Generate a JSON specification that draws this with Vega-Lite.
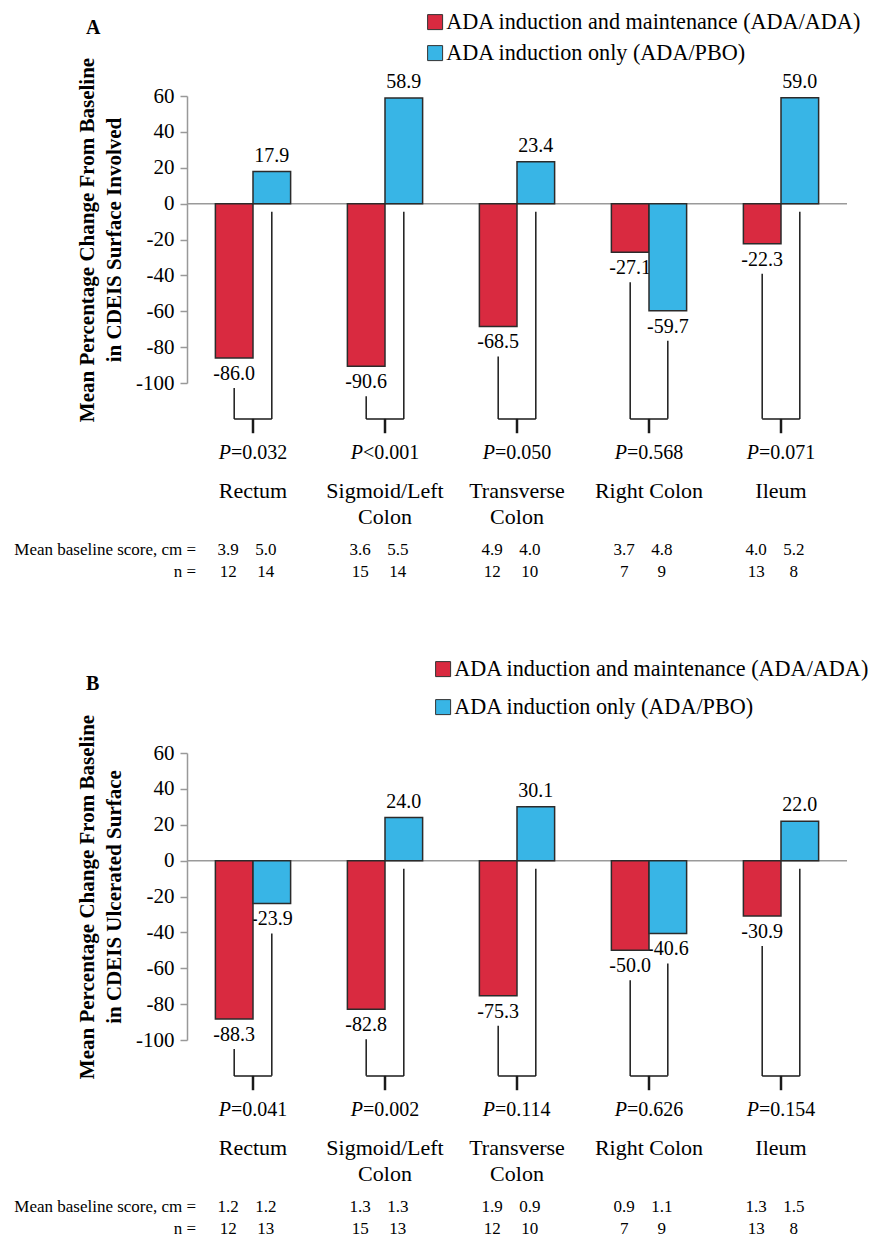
{
  "$schema": "https://vega.github.io/schema/vega-lite/v6.json",
  "padding": {"left": 14, "top": 11, "right": 2, "bottom": 0},
  "config": {
    "font": "Liberation Serif",
    "view": {"stroke": null},
    "locale": {"number": {"decimal": ".", "thousands": ",", "grouping": [3], "currency": ["$", ""], "minus": "-"}},
    "axis": {"grid": false, "labelFont": "Liberation Serif", "titleFont": "Liberation Serif", "labelOverlap": false},
    "legend": {"labelFont": "Liberation Serif", "titleFont": "Liberation Serif"},
    "title": {"color": "black", "font": "Liberation Serif"},
    "text": {"font": "Liberation Serif", "color": "black"}
  },
  "datasets": {
    "barsA": [
      {"region": "Rectum", "group": "ADA induction and maintenance (ADA/ADA)", "value": -86.0, "base": 3.9, "n": 12},
      {"region": "Rectum", "group": "ADA induction only (ADA/PBO)", "value": 17.9, "base": 5.0, "n": 14},
      {"region": "Sigmoid/Left Colon", "group": "ADA induction and maintenance (ADA/ADA)", "value": -90.6, "base": 3.6, "n": 15},
      {"region": "Sigmoid/Left Colon", "group": "ADA induction only (ADA/PBO)", "value": 58.9, "base": 5.5, "n": 14},
      {"region": "Transverse Colon", "group": "ADA induction and maintenance (ADA/ADA)", "value": -68.5, "base": 4.9, "n": 12},
      {"region": "Transverse Colon", "group": "ADA induction only (ADA/PBO)", "value": 23.4, "base": 4.0, "n": 10},
      {"region": "Right Colon", "group": "ADA induction and maintenance (ADA/ADA)", "value": -27.1, "base": 3.7, "n": 7},
      {"region": "Right Colon", "group": "ADA induction only (ADA/PBO)", "value": -59.7, "base": 4.8, "n": 9},
      {"region": "Ileum", "group": "ADA induction and maintenance (ADA/ADA)", "value": -22.3, "base": 4.0, "n": 13},
      {"region": "Ileum", "group": "ADA induction only (ADA/PBO)", "value": 59.0, "base": 5.2, "n": 8}
    ],
    "pA": [
      {"region": "Rectum", "label": "Rectum", "p": "=0.032"},
      {"region": "Sigmoid/Left Colon", "label": "Sigmoid/Left\nColon", "p": "<0.001"},
      {"region": "Transverse Colon", "label": "Transverse\nColon", "p": "=0.050"},
      {"region": "Right Colon", "label": "Right Colon", "p": "=0.568"},
      {"region": "Ileum", "label": "Ileum", "p": "=0.071"}
    ],
    "barsB": [
      {"region": "Rectum", "group": "ADA induction and maintenance (ADA/ADA)", "value": -88.3, "base": 1.2, "n": 12},
      {"region": "Rectum", "group": "ADA induction only (ADA/PBO)", "value": -23.9, "base": 1.2, "n": 13},
      {"region": "Sigmoid/Left Colon", "group": "ADA induction and maintenance (ADA/ADA)", "value": -82.8, "base": 1.3, "n": 15},
      {"region": "Sigmoid/Left Colon", "group": "ADA induction only (ADA/PBO)", "value": 24.0, "base": 1.3, "n": 13},
      {"region": "Transverse Colon", "group": "ADA induction and maintenance (ADA/ADA)", "value": -75.3, "base": 1.9, "n": 12},
      {"region": "Transverse Colon", "group": "ADA induction only (ADA/PBO)", "value": 30.1, "base": 0.9, "n": 10},
      {"region": "Right Colon", "group": "ADA induction and maintenance (ADA/ADA)", "value": -50.0, "base": 0.9, "n": 7},
      {"region": "Right Colon", "group": "ADA induction only (ADA/PBO)", "value": -40.6, "base": 1.1, "n": 9},
      {"region": "Ileum", "group": "ADA induction and maintenance (ADA/ADA)", "value": -30.9, "base": 1.3, "n": 13},
      {"region": "Ileum", "group": "ADA induction only (ADA/PBO)", "value": 22.0, "base": 1.5, "n": 8}
    ],
    "pB": [
      {"region": "Rectum", "label": "Rectum", "p": "=0.041"},
      {"region": "Sigmoid/Left Colon", "label": "Sigmoid/Left\nColon", "p": "=0.002"},
      {"region": "Transverse Colon", "label": "Transverse\nColon", "p": "=0.114"},
      {"region": "Right Colon", "label": "Right Colon", "p": "=0.626"},
      {"region": "Ileum", "label": "Ileum", "p": "=0.154"}
    ]
  },
  "spacing": 77,
  "resolve": {"scale": {"color": "independent"}, "legend": {"color": "independent"}},
  "vconcat": [
    {
      "title": {"text": "A", "anchor": "start", "frame": "group", "fontSize": 20, "fontWeight": "bold", "dx": -101, "dy": 27, "offset": 0},
      "width": 660,
      "height": 287,
      "data": {"name": "barsA"},
      "layer": [
        {"data": {"values": [{}]}, "mark": {"type": "rule", "color": "#9a9a9a", "strokeWidth": 1.5},
         "encoding": {"y": {"datum": 0, "type": "quantitative", "scale": {"domain": [-100, 60], "nice": false},
                            "axis": {"title": ["Mean Percentage Change From Baseline", "in CDEIS Surface Involved"], "titleFontSize": 21, "titleFontWeight": "bold", "titleColor": "black", "titleLineHeight": 27, "titlePadding": 11,
                                     "values": [-100, -80, -60, -40, -20, 0, 20, 40, 60], "tickCount": 12, "labelOverlap": false, "labelFontSize": 21, "labelColor": "black", "tickColor": "#999", "domainColor": "#999", "tickSize": 7, "labelPadding": 6, "domainWidth": 1.5, "tickWidth": 1.5}}}},
        {"transform": [{"filter": "datum.value < 0"}], "mark": {"type": "text", "fontSize": 20, "dy": 16, "baseline": "middle"},
         "encoding": {"x": {"field": "region", "type": "nominal", "scale": {"domain": ["Rectum", "Sigmoid/Left Colon", "Transverse Colon", "Right Colon", "Ileum"], "paddingInner": 0.43, "paddingOuter": 0.215}, "axis": null},
                      "xOffset": {"field": "group", "type": "nominal", "scale": {"domain": ["ADA induction and maintenance (ADA/ADA)", "ADA induction only (ADA/PBO)"], "paddingInner": 0, "paddingOuter": 0}},
                      "y": {"field": "value", "type": "quantitative"}, "text": {"field": "value", "type": "quantitative", "format": ".1f"}}},
        {"transform": [{"filter": "datum.value >= 0"}], "mark": {"type": "text", "fontSize": 20, "dy": -16, "baseline": "middle"},
         "encoding": {"x": {"field": "region", "type": "nominal"}, "xOffset": {"field": "group", "type": "nominal"},
                      "y": {"field": "value", "type": "quantitative"}, "text": {"field": "value", "type": "quantitative", "format": ".1f"}}},
        {"mark": {"type": "bar", "stroke": "#2b2b2b", "strokeWidth": 1.5},
         "encoding": {"x": {"field": "region", "type": "nominal"}, "xOffset": {"field": "group", "type": "nominal"},
                      "y": {"field": "value", "type": "quantitative"},
                      "color": {"field": "group", "type": "nominal", "scale": {"domain": ["ADA induction and maintenance (ADA/ADA)", "ADA induction only (ADA/PBO)"], "range": ["#d92a40", "#38b5e6"]},
                                "legend": {"title": null, "orient": "none", "legendX": 237, "legendY": -85, "symbolType": "square", "symbolSize": 225, "symbolStrokeColor": "#333", "symbolStrokeWidth": 1, "labelFont": "Liberation Serif", "labelFontSize": 22.2, "labelColor": "black", "rowPadding": 8, "labelOffset": 0, "labelLimit": 600}}}},
        {"transform": [{"filter": "datum.value < 0"}], "mark": {"type": "rule", "color": "#1a1a1a", "strokeWidth": 1.5, "yOffset": 30},
         "encoding": {"x": {"field": "region", "type": "nominal"}, "xOffset": {"field": "group", "type": "nominal"}, "y": {"field": "value", "type": "quantitative"}, "y2": {"datum": -120}}},
        {"transform": [{"filter": "datum.value >= 0"}], "mark": {"type": "rule", "color": "#1a1a1a", "strokeWidth": 1.5, "yOffset": 8},
         "encoding": {"x": {"field": "region", "type": "nominal"}, "xOffset": {"field": "group", "type": "nominal"}, "y": {"datum": 0}, "y2": {"datum": -120}}},
        {"mark": {"type": "line", "color": "#1a1a1a", "strokeWidth": 1.5},
         "encoding": {"x": {"field": "region", "type": "nominal"}, "xOffset": {"field": "group", "type": "nominal"}, "y": {"datum": -120}, "detail": {"field": "region"}}},
        {"data": {"name": "pA"}, "mark": {"type": "rule", "color": "#1a1a1a", "strokeWidth": 2.5},
         "encoding": {"x": {"field": "region", "type": "nominal"}, "y": {"datum": -120}, "y2": {"datum": -128}}},
        {"data": {"name": "pA"}, "mark": {"type": "text", "text": "P", "fontStyle": "italic", "fontSize": 20, "align": "right", "dx": -22, "baseline": "middle"},
         "encoding": {"x": {"field": "region", "type": "nominal"}, "y": {"datum": -139}}},
        {"data": {"name": "pA"}, "mark": {"type": "text", "fontSize": 20, "align": "left", "dx": -22, "baseline": "middle"},
         "encoding": {"x": {"field": "region", "type": "nominal"}, "y": {"datum": -139}, "text": {"field": "p"}}},
        {"data": {"name": "pA"}, "mark": {"type": "text", "fontSize": 22, "baseline": "top", "lineBreak": "\n", "lineHeight": 26},
         "encoding": {"x": {"field": "region", "type": "nominal"}, "y": {"datum": -154.5}, "text": {"field": "label"}}},
        {"mark": {"type": "text", "fontSize": 17, "dx": -6, "baseline": "middle"},
         "encoding": {"x": {"field": "region", "type": "nominal"}, "xOffset": {"field": "group", "type": "nominal"}, "y": {"datum": -193}, "text": {"field": "base", "type": "quantitative", "format": ".1f"}}},
        {"mark": {"type": "text", "fontSize": 17, "dx": -6, "baseline": "middle"},
         "encoding": {"x": {"field": "region", "type": "nominal"}, "xOffset": {"field": "group", "type": "nominal"}, "y": {"datum": -205.5}, "text": {"field": "n", "type": "quantitative"}}},
        {"data": {"values": [{"t": "Mean baseline score, cm ="}]}, "mark": {"type": "text", "fontSize": 17, "dx": -38, "align": "right", "baseline": "middle"},
         "encoding": {"x": {"datum": "Rectum", "type": "nominal"}, "xOffset": {"datum": "ADA induction and maintenance (ADA/ADA)", "type": "nominal"}, "y": {"datum": -193}, "text": {"field": "t"}}},
        {"data": {"values": [{"t": "n ="}]}, "mark": {"type": "text", "fontSize": 17, "dx": -38, "align": "right", "baseline": "middle"},
         "encoding": {"x": {"datum": "Rectum", "type": "nominal"}, "xOffset": {"datum": "ADA induction and maintenance (ADA/ADA)", "type": "nominal"}, "y": {"datum": -205.5}, "text": {"field": "t"}}}
      ]
    },
    {
      "title": {"text": "B", "anchor": "start", "frame": "group", "fontSize": 20, "fontWeight": "bold", "dx": -101, "dy": 36, "offset": 0},
      "width": 660,
      "height": 287,
      "data": {"name": "barsB"},
      "layer": [
        {"data": {"values": [{}]}, "mark": {"type": "rule", "color": "#9a9a9a", "strokeWidth": 1.5},
         "encoding": {"y": {"datum": 0, "type": "quantitative", "scale": {"domain": [-100, 60], "nice": false},
                            "axis": {"title": ["Mean Percentage Change From Baseline", "in CDEIS Ulcerated Surface"], "titleFontSize": 21, "titleFontWeight": "bold", "titleColor": "black", "titleLineHeight": 27, "titlePadding": 11,
                                     "values": [-100, -80, -60, -40, -20, 0, 20, 40, 60], "tickCount": 12, "labelOverlap": false, "labelFontSize": 21, "labelColor": "black", "tickColor": "#999", "domainColor": "#999", "tickSize": 7, "labelPadding": 6, "domainWidth": 1.5, "tickWidth": 1.5}}}},
        {"transform": [{"filter": "datum.value < 0"}], "mark": {"type": "text", "fontSize": 20, "dy": 16, "baseline": "middle"},
         "encoding": {"x": {"field": "region", "type": "nominal", "scale": {"domain": ["Rectum", "Sigmoid/Left Colon", "Transverse Colon", "Right Colon", "Ileum"], "paddingInner": 0.43, "paddingOuter": 0.215}, "axis": null},
                      "xOffset": {"field": "group", "type": "nominal", "scale": {"domain": ["ADA induction and maintenance (ADA/ADA)", "ADA induction only (ADA/PBO)"], "paddingInner": 0, "paddingOuter": 0}},
                      "y": {"field": "value", "type": "quantitative"}, "text": {"field": "value", "type": "quantitative", "format": ".1f"}}},
        {"transform": [{"filter": "datum.value >= 0"}], "mark": {"type": "text", "fontSize": 20, "dy": -16, "baseline": "middle"},
         "encoding": {"x": {"field": "region", "type": "nominal"}, "xOffset": {"field": "group", "type": "nominal"},
                      "y": {"field": "value", "type": "quantitative"}, "text": {"field": "value", "type": "quantitative", "format": ".1f"}}},
        {"mark": {"type": "bar", "stroke": "#2b2b2b", "strokeWidth": 1.5},
         "encoding": {"x": {"field": "region", "type": "nominal"}, "xOffset": {"field": "group", "type": "nominal"},
                      "y": {"field": "value", "type": "quantitative"},
                      "color": {"field": "group", "type": "nominal", "scale": {"domain": ["ADA induction and maintenance (ADA/ADA)", "ADA induction only (ADA/PBO)"], "range": ["#d92a40", "#38b5e6"]},
                                "legend": {"title": null, "orient": "none", "legendX": 245, "legendY": -95, "symbolType": "square", "symbolSize": 225, "symbolStrokeColor": "#333", "symbolStrokeWidth": 1, "labelFont": "Liberation Serif", "labelFontSize": 22.2, "labelColor": "black", "rowPadding": 15, "labelOffset": 0, "labelLimit": 600}}}},
        {"transform": [{"filter": "datum.value < 0"}], "mark": {"type": "rule", "color": "#1a1a1a", "strokeWidth": 1.5, "yOffset": 30},
         "encoding": {"x": {"field": "region", "type": "nominal"}, "xOffset": {"field": "group", "type": "nominal"}, "y": {"field": "value", "type": "quantitative"}, "y2": {"datum": -120}}},
        {"transform": [{"filter": "datum.value >= 0"}], "mark": {"type": "rule", "color": "#1a1a1a", "strokeWidth": 1.5, "yOffset": 8},
         "encoding": {"x": {"field": "region", "type": "nominal"}, "xOffset": {"field": "group", "type": "nominal"}, "y": {"datum": 0}, "y2": {"datum": -120}}},
        {"mark": {"type": "line", "color": "#1a1a1a", "strokeWidth": 1.5},
         "encoding": {"x": {"field": "region", "type": "nominal"}, "xOffset": {"field": "group", "type": "nominal"}, "y": {"datum": -120}, "detail": {"field": "region"}}},
        {"data": {"name": "pB"}, "mark": {"type": "rule", "color": "#1a1a1a", "strokeWidth": 2.5},
         "encoding": {"x": {"field": "region", "type": "nominal"}, "y": {"datum": -120}, "y2": {"datum": -128}}},
        {"data": {"name": "pB"}, "mark": {"type": "text", "text": "P", "fontStyle": "italic", "fontSize": 20, "align": "right", "dx": -22, "baseline": "middle"},
         "encoding": {"x": {"field": "region", "type": "nominal"}, "y": {"datum": -139}}},
        {"data": {"name": "pB"}, "mark": {"type": "text", "fontSize": 20, "align": "left", "dx": -22, "baseline": "middle"},
         "encoding": {"x": {"field": "region", "type": "nominal"}, "y": {"datum": -139}, "text": {"field": "p"}}},
        {"data": {"name": "pB"}, "mark": {"type": "text", "fontSize": 22, "baseline": "top", "lineBreak": "\n", "lineHeight": 26},
         "encoding": {"x": {"field": "region", "type": "nominal"}, "y": {"datum": -154.5}, "text": {"field": "label"}}},
        {"mark": {"type": "text", "fontSize": 17, "dx": -6, "baseline": "middle"},
         "encoding": {"x": {"field": "region", "type": "nominal"}, "xOffset": {"field": "group", "type": "nominal"}, "y": {"datum": -193}, "text": {"field": "base", "type": "quantitative", "format": ".1f"}}},
        {"mark": {"type": "text", "fontSize": 17, "dx": -6, "baseline": "middle"},
         "encoding": {"x": {"field": "region", "type": "nominal"}, "xOffset": {"field": "group", "type": "nominal"}, "y": {"datum": -205.5}, "text": {"field": "n", "type": "quantitative"}}},
        {"data": {"values": [{"t": "Mean baseline score, cm ="}]}, "mark": {"type": "text", "fontSize": 17, "dx": -38, "align": "right", "baseline": "middle"},
         "encoding": {"x": {"datum": "Rectum", "type": "nominal"}, "xOffset": {"datum": "ADA induction and maintenance (ADA/ADA)", "type": "nominal"}, "y": {"datum": -193}, "text": {"field": "t"}}},
        {"data": {"values": [{"t": "n ="}]}, "mark": {"type": "text", "fontSize": 17, "dx": -38, "align": "right", "baseline": "middle"},
         "encoding": {"x": {"datum": "Rectum", "type": "nominal"}, "xOffset": {"datum": "ADA induction and maintenance (ADA/ADA)", "type": "nominal"}, "y": {"datum": -205.5}, "text": {"field": "t"}}}
      ]
    }
  ]
}
